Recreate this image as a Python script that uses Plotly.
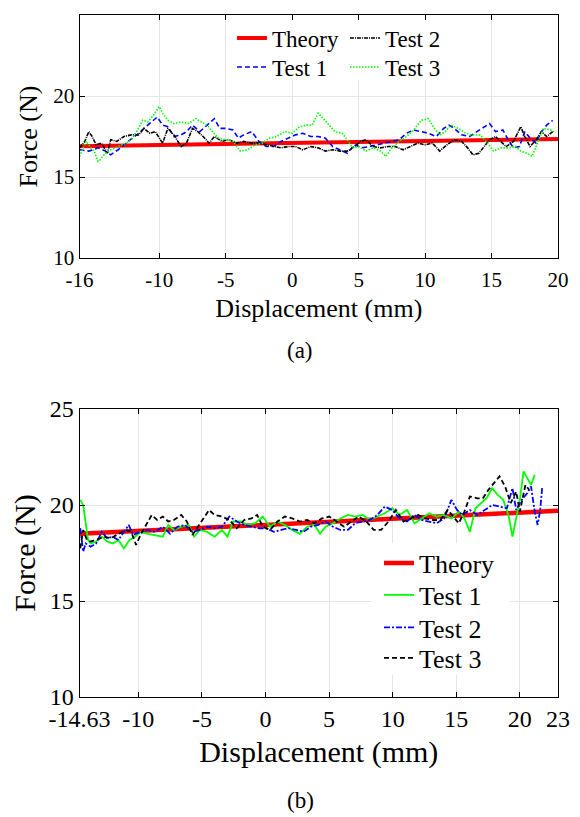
import plotly.graph_objects as go

# ---------------- data: panel (a) ----------------
a_theory_x = [-16, 20]
a_theory_y = [16.9, 17.35]

a_t1_x = [-16.0, -15.3, -14.6, -14.05, -13.65, -13.1, -12.5, -12.0, -11.55, -11.15,
          -10.6, -10.15, -9.75, -9.35, -8.9, -8.35, -7.95, -7.5, -6.95, -6.4,
          -5.85, -5.45, -5.0, -4.45, -4.05, -3.65, -3.05, -2.5, -1.95, -1.4,
          -0.85, -0.3, 0.25, 0.8, 1.4, 1.95, 2.5, 3.05, 3.6, 4.15,
          4.7, 5.25, 5.8, 6.4, 6.95, 7.5, 8.05, 8.6, 9.15, 9.7,
          10.25, 10.85, 11.4, 11.8, 12.2, 12.75, 13.35, 13.9, 14.45, 14.85,
          15.3, 15.85, 16.25, 16.65, 17.1, 17.5, 17.9, 18.35, 18.75, 19.15, 19.6]
a_t1_y = [16.68, 16.6, 16.8, 16.6, 16.37, 16.68, 17.09, 17.4, 17.7, 18.0,
          18.4, 18.7, 18.2, 18.1, 17.5, 17.6, 17.8, 18.2, 17.8, 18.2,
          18.6, 18.0, 18.0, 17.9, 17.4, 17.6, 17.8, 17.2, 16.88, 16.88,
          17.2, 17.4, 17.6, 17.7, 17.5, 17.5, 17.4, 16.88, 16.68, 16.47,
          16.99, 16.8, 16.88, 16.99, 17.09, 17.2, 17.3, 17.7, 17.9, 17.8,
          17.7, 17.5, 18.0, 18.2, 18.0, 17.6, 17.5, 17.8, 18.1, 18.3,
          17.8, 17.9, 17.3, 16.8, 16.88, 17.8, 17.4, 17.09, 17.8, 18.2, 18.5]

a_t2_x = [-16.0, -15.6, -15.3, -15.05, -14.75, -14.35, -13.9, -13.65, -13.2, -12.65,
          -12.1, -11.55, -11.15, -10.7, -10.3, -9.75, -9.35, -8.9, -8.35, -7.95,
          -7.5, -7.1, -6.7, -6.25, -5.85, -5.3, -4.75, -4.2, -3.65, -3.05,
          -2.5, -1.95, -1.4, -0.85, -0.3, 0.25, 0.8, 1.4, 1.95, 2.5,
          3.05, 3.6, 4.15, 4.7, 5.15, 5.55, 6.1, 6.65, 7.2, 7.75,
          8.35, 8.9, 9.45, 10.0, 10.55, 11.1, 11.65, 12.2, 12.75, 13.2,
          13.6, 14.05, 14.45, 14.85, 15.3, 15.7, 16.1, 16.65, 17.2, 17.5,
          17.9, 18.35, 18.75, 19.15, 19.6]
a_t2_y = [16.8, 17.2, 17.8, 17.5, 16.99, 17.09, 16.47, 17.3, 17.2, 17.5,
          17.6, 17.6, 18.0, 17.7, 17.8, 17.09, 18.0, 17.6, 16.88, 17.09,
          18.0, 17.8, 17.5, 17.09, 17.5, 17.2, 17.3, 17.09, 17.2, 17.09,
          17.09, 16.99, 16.88, 16.8, 16.88, 16.88, 16.68, 16.88, 16.8, 16.6,
          16.68, 16.6, 16.6, 16.88, 17.2, 17.3, 16.88, 16.8, 16.88, 16.88,
          16.68, 16.88, 17.09, 16.99, 17.09, 16.6, 16.99, 17.3, 17.2, 16.8,
          16.37, 16.47, 16.88, 17.3, 17.5, 17.2, 16.88, 17.2, 18.1, 17.5,
          16.88, 17.3, 17.8, 17.5, 17.8]

a_t3_x = [-16.0, -15.7, -15.5, -15.15, -14.9, -14.6, -14.45, -14.05, -13.65, -13.1,
          -12.5, -12.1, -11.7, -11.25, -10.85, -10.45, -10.0, -9.75, -9.35, -8.9,
          -8.35, -7.8, -7.25, -6.85, -6.4, -6.0, -5.55, -5.0, -4.45, -3.9,
          -3.35, -2.8, -2.25, -1.7, -1.15, -0.55, 0.0, 0.55, 1.1, 1.5,
          1.95, 2.35, 2.75, 3.2, 3.75, 4.15, 4.55, 5.0, 5.55, 6.1,
          6.65, 7.05, 7.5, 8.05, 8.6, 9.15, 9.7, 10.25, 10.7, 11.1,
          11.5, 11.95, 12.5, 13.05, 13.45, 14.15, 14.7, 15.15, 15.7, 16.25,
          16.8, 17.2, 17.65, 18.05, 18.45, 18.9, 19.45, 19.7]
a_t3_y = [16.27, 16.88, 17.2, 16.8, 16.6, 15.96, 16.06, 16.47, 16.68, 16.88,
          17.09, 17.3, 17.8, 18.5, 18.4, 18.8, 19.35, 18.94, 18.5, 18.3,
          18.4, 18.3, 18.6, 18.4, 18.2, 17.8, 17.4, 17.3, 17.2, 16.6,
          16.68, 16.99, 17.09, 17.4, 17.5, 17.8, 17.7, 18.1, 18.2, 18.2,
          18.94, 18.6, 18.2, 17.8, 17.7, 17.3, 16.8, 16.88, 16.6, 16.8,
          16.6, 16.27, 16.8, 17.2, 17.5, 17.9, 18.5, 18.6, 18.0, 17.6,
          17.8, 18.2, 18.0, 17.7, 17.6, 17.6, 17.09, 16.6, 16.8, 16.8,
          16.88, 16.6, 16.47, 16.27, 17.09, 18.0, 17.9, 17.8]

# ---------------- data: panel (b) ----------------
b_theory_x = [-14.63, 23]
b_theory_y = [18.5, 19.7]

b_t1_x = [-14.57, -14.34, -14.14, -13.96, -13.76, -13.32, -12.88, -12.45, -12.01, -11.57,
          -11.14, -10.7, -10.26, -9.83, -9.25, -8.66, -8.08, -7.65, -7.21, -6.63,
          -6.04, -5.61, -5.17, -4.59, -4.01, -3.43, -2.99, -2.55, -1.97, -1.39,
          -0.81, -0.22, 0.36, 0.94, 1.52, 2.1, 2.69, 3.27, 3.85, 4.29,
          4.72, 5.31, 5.89, 6.47, 7.05, 7.63, 8.22, 8.8, 9.38, 9.96,
          10.54, 11.13, 11.71, 12.29, 12.87, 13.45, 14.04, 14.62, 15.2, 15.64,
          16.07, 16.51, 16.95, 17.38, 17.82, 18.26, 18.69, 19.13, 19.42, 19.71,
          20.0, 20.29, 20.59, 20.88, 21.17]
b_t1_y = [20.27, 20.0, 19.05, 18.18, 18.0, 18.1, 18.35, 18.1, 18.0, 18.18,
          17.74, 18.18, 18.35, 18.6, 18.5, 18.44, 18.35, 18.96, 18.7, 18.87,
          18.96, 18.35, 18.7, 18.6, 18.35, 18.7, 18.35, 19.14, 19.14, 18.96,
          19.05, 19.4, 18.87, 19.14, 18.96, 18.7, 18.5, 18.87, 18.96, 18.5,
          18.87, 19.05, 19.3, 19.48, 19.4, 19.48, 19.22, 19.4, 19.57, 19.83,
          19.48, 19.74, 19.05, 19.3, 19.57, 19.4, 19.48, 19.3, 19.66, 19.3,
          18.6, 19.83, 20.1, 20.35, 20.88, 20.53, 20.27, 19.4, 18.35, 19.4,
          20.27, 21.75, 21.4, 21.05, 21.57]

b_t2_x = [-14.57, -14.34, -14.14, -13.76, -13.32, -12.88, -12.45, -12.01, -11.57, -11.14,
          -10.76, -10.41, -9.83, -9.25, -8.66, -8.08, -7.5, -6.92, -6.34, -5.75,
          -5.17, -4.59, -4.01, -3.43, -2.84, -2.26, -1.68, -1.1, -0.51, 0.07,
          0.65, 1.23, 1.81, 2.4, 2.98, 3.56, 4.14, 4.72, 5.31, 5.89,
          6.47, 7.05, 7.63, 8.22, 8.8, 9.38, 9.96, 10.54, 11.13, 11.71,
          12.29, 12.87, 13.45, 14.04, 14.62, 15.06, 15.49, 16.07, 16.66, 17.24,
          17.82, 18.4, 18.98, 19.42, 19.71, 20.15, 20.59, 20.88, 21.17, 21.4,
          21.6, 21.75]
b_t2_y = [18.79, 17.57, 18.0, 17.83, 18.0, 18.6, 18.27, 18.35, 18.18, 18.6,
          18.96, 18.44, 18.6, 18.7, 18.6, 18.87, 18.5, 18.87, 18.96, 18.6,
          18.7, 18.87, 18.79, 18.87, 19.4, 19.14, 18.96, 18.87, 18.79, 18.79,
          18.6, 18.7, 18.79, 18.7, 18.6, 18.87, 18.96, 19.14, 18.87, 18.7,
          18.7, 19.05, 19.14, 19.22, 19.48, 19.92, 19.74, 19.3, 19.14, 19.48,
          19.22, 19.14, 19.05, 19.3, 20.27, 19.74, 19.48, 19.74, 19.48, 19.74,
          20.0, 19.92, 19.83, 20.88, 19.74, 20.27, 20.62, 20.97, 19.66, 18.96,
          19.74, 20.88]

b_t3_x = [-14.57, -14.34, -14.05, -13.76, -13.32, -12.74, -12.16, -11.57, -10.99, -10.56,
          -10.18, -9.83, -9.39, -8.95, -8.52, -8.08, -7.65, -7.21, -6.63, -6.19,
          -5.75, -5.32, -4.88, -4.44, -4.01, -3.43, -2.84, -2.26, -1.68, -1.1,
          -0.66, -0.22, 0.36, 0.94, 1.52, 2.1, 2.69, 3.27, 3.85, 4.43,
          5.02, 5.6, 6.18, 6.76, 7.34, 7.93, 8.51, 9.09, 9.67, 10.25,
          10.84, 11.42, 12.0, 12.58, 13.16, 13.75, 14.33, 14.76, 15.2, 15.64,
          16.07, 16.66, 17.09, 17.53, 17.97, 18.4, 18.84, 19.28, 19.71, 20.0,
          20.44, 20.73]
b_t3_y = [17.74, 18.7, 18.18, 18.1, 18.18, 18.35, 18.27, 18.5, 18.7, 18.6,
          17.92, 18.44, 18.96, 19.48, 19.22, 19.4, 19.14, 19.22, 19.48, 19.14,
          18.44, 18.87, 19.3, 19.74, 19.48, 19.4, 19.22, 18.79, 19.22, 19.3,
          19.48, 18.87, 18.7, 19.14, 19.4, 19.3, 19.14, 19.22, 19.05, 19.3,
          19.4, 19.14, 18.87, 19.14, 19.4, 19.14, 18.7, 18.7, 19.14, 19.74,
          19.14, 19.3, 19.48, 19.3, 19.22, 19.22, 19.74, 19.4, 19.05, 19.66,
          20.44, 20.35, 20.35, 20.79, 21.14, 21.49, 20.97, 20.1, 20.7, 19.66,
          21.05, 20.79]

# ---------------- ticks ----------------
a_xrange = [-16, 20]
b_xrange = [-14.63, 23]
yrange = [10, 25]
a_xticks = [-16, -10, -5, 0, 5, 10, 15, 20]
a_xticktext = ["-16", "-10", "-5", "0", "5", "10", "15", "20"]
b_xticks = [-14.63, -10, -5, 0, 5, 10, 15, 20, 23]
b_xticktext = ["-14.63", "-10", "-5", "0", "5", "10", "15", "20", "23"]
yticks = [10, 15, 20, 25]
yticktext = ["10", "15", "20", "25"]

FONT = "Liberation Serif, Times New Roman, DejaVu Serif, serif"
RED, GREEN, BLUE, BLACK = "#ff0000", "#00ff00", "#0000ff", "#000000"

W, H = 580, 817
OFF = 8  # page body margin offset


def px(x):
    return (x - OFF) / W


def py(y):
    return 1 - (y - OFF) / H


def frac(rng, f):
    return rng[0] + f * (rng[1] - rng[0])


fig = go.Figure()

# panel (a)
fig.add_trace(go.Scatter(x=a_theory_x, y=a_theory_y, mode="lines", name="Theory",
                         line=dict(color=RED, width=4), xaxis="x", yaxis="y", legend="legend"))
fig.add_trace(go.Scatter(x=a_t1_x, y=a_t1_y, mode="lines", name="Test 1",
                         line=dict(color=BLUE, width=1.6, dash="5px,3px"), xaxis="x", yaxis="y", legend="legend2"))
fig.add_trace(go.Scatter(x=a_t2_x, y=a_t2_y, mode="lines", name="Test 2",
                         line=dict(color=BLACK, width=1.6, dash="4px,1px,1px,1px"), xaxis="x", yaxis="y", legend="legend3"))
fig.add_trace(go.Scatter(x=a_t3_x, y=a_t3_y, mode="lines", name="Test 3",
                         line=dict(color=GREEN, width=1.6, dash="1.5px,1.5px"), xaxis="x", yaxis="y", legend="legend4"))

# panel (b)
fig.add_trace(go.Scatter(x=b_theory_x, y=b_theory_y, mode="lines", name="Theory",
                         line=dict(color=RED, width=4.5), xaxis="x2", yaxis="y2", legend="legend5"))
fig.add_trace(go.Scatter(x=b_t1_x, y=b_t1_y, mode="lines", name="Test 1",
                         line=dict(color=GREEN, width=1.8), xaxis="x2", yaxis="y2", legend="legend6"))
fig.add_trace(go.Scatter(x=b_t2_x, y=b_t2_y, mode="lines", name="Test 2",
                         line=dict(color=BLUE, width=1.8, dash="6px,2px,2px,2px"), xaxis="x2", yaxis="y2", legend="legend7"))
fig.add_trace(go.Scatter(x=b_t3_x, y=b_t3_y, mode="lines", name="Test 3",
                         line=dict(color=BLACK, width=1.8, dash="5px,3px"), xaxis="x2", yaxis="y2", legend="legend8"))

xdom = [px(79.5), px(558)]
ydom_a = [py(258), py(15)]
ydom_b = [py(697), py(409)]

common = dict(showline=True, linecolor="black", linewidth=1, mirror="ticks",
              ticks="inside", ticklen=5, tickcolor="black", showgrid=True,
              gridcolor="#e6e6e6", gridwidth=1, zeroline=False, automargin=False)


def leg(x, y, size):
    return dict(x=px(x), y=py(y), xanchor="left", yanchor="middle",
                bgcolor="rgba(0,0,0,0)", borderwidth=0, font=dict(family=FONT, size=size))


# white legend backgrounds (cover the grid, sit under the data)
legend_boxes = [
    dict(type="rect", xref="x", yref="y",
         x0=frac(a_xrange, 0.313), x1=frac(a_xrange, 0.784),
         y0=frac(yrange, 0.735), y1=frac(yrange, 0.996),
         fillcolor="white", line=dict(width=0), layer="between"),
    dict(type="rect", xref="x2", yref="y2",
         x0=frac(b_xrange, 0.610), x1=frac(b_xrange, 0.900),
         y0=frac(yrange, 0.078), y1=frac(yrange, 0.535),
         fillcolor="white", line=dict(width=0), layer="between"),
]

fig.update_layout(
    width=W, height=H, margin=dict(l=0, r=0, t=0, b=0),
    paper_bgcolor="white", plot_bgcolor="white", showlegend=True,
    font=dict(family=FONT, color="black"),
    xaxis=dict(domain=xdom, anchor="y", range=a_xrange, tickvals=a_xticks, ticktext=a_xticktext,
               tickfont=dict(family=FONT, size=21), ticklabelstandoff=3,
               title=dict(text="Displacement (mm)", font=dict(family=FONT, size=26), standoff=7), **common),
    yaxis=dict(domain=ydom_a, anchor="x", range=yrange, tickvals=yticks, ticktext=yticktext,
               tickfont=dict(family=FONT, size=21),
               title=dict(text="Force (N)", font=dict(family=FONT, size=26), standoff=8), **common),
    xaxis2=dict(domain=xdom, anchor="y2", range=b_xrange, tickvals=b_xticks,
                ticktext=b_xticktext, tickfont=dict(family=FONT, size=24),
                title=dict(text="Displacement (mm)", font=dict(family=FONT, size=30), standoff=10), **common),
    yaxis2=dict(domain=ydom_b, anchor="x2", range=yrange, tickvals=yticks, ticktext=yticktext,
                tickfont=dict(family=FONT, size=24),
                title=dict(text="Force (N)", font=dict(family=FONT, size=30), standoff=12), **common),
    legend=leg(232, 38, 23),
    legend2=leg(232, 67, 23),
    legend3=leg(345, 38, 23),
    legend4=leg(345, 67, 23),
    legend5=leg(379, 563, 26),
    legend6=leg(379, 595, 26),
    legend7=leg(379, 627.5, 26),
    legend8=leg(379, 658, 26),
    shapes=legend_boxes,
    annotations=[
        dict(text="(a)", x=px(300), y=py(350), xref="paper", yref="paper",
             showarrow=False, font=dict(family=FONT, size=23), xanchor="center", yanchor="middle"),
        dict(text="(b)", x=px(300), y=py(800), xref="paper", yref="paper",
             showarrow=False, font=dict(family=FONT, size=23), xanchor="center", yanchor="middle"),
    ],
)

fig.write_html("out.html")
